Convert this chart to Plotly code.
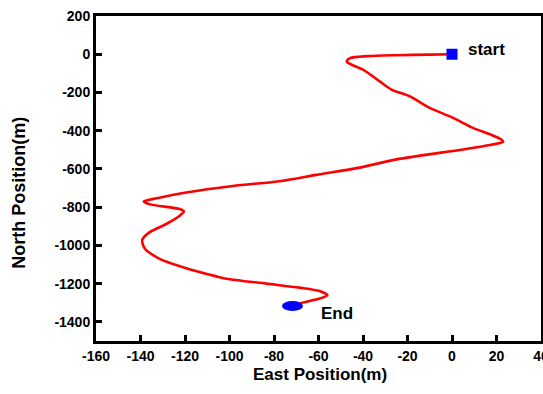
import plotly.graph_objects as go

# Trajectory (East, North) in metres
east = [0, -10, -25, -38, -45.8, -47.3, -45.1, -40, -32.5, -27.2, -19, -10, 0.5,
        9.4, 17, 22.2, 23, 17, 5, -25, -41.5, -61, -76.7, -98.5, -119.4, -132,
        -138.5, -136, -122.4, -120.5, -122.4, -128.4, -136, -139.2, -138, -131.4,
        -120.9, -105.9, -101.4, -83.4, -68.5, -59.5, -56, -59.5, -67.7, -71.7]
north = [0, -2, -5, -10, -20.3, -38, -55, -81, -142, -185, -220, -281, -333,
         -385, -418, -446, -458, -475, -498, -550, -593, -631, -663, -689, -723, -752,
         -770, -784, -810, -822, -845, -888, -932, -971, -1018, -1070,
         -1114, -1162, -1174, -1200, -1221, -1239, -1261, -1278, -1301, -1317]

x_ticks = [-160, -140, -120, -100, -80, -60, -40, -20, 0, 20, 40]
y_ticks = [-1400, -1200, -1000, -800, -600, -400, -200, 0, 200]
start_label = "start"
end_label = "End"

FONT = "Liberation Sans, Arial, sans-serif"

fig = go.Figure()
fig.add_trace(go.Scatter(x=east, y=north, mode="lines",
                         line=dict(color="#ff0000", width=2.6, shape="spline", smoothing=0.8),
                         showlegend=False, hoverinfo="skip"))
fig.add_trace(go.Scatter(x=[east[0]], y=[north[0]], mode="markers",
                         marker=dict(symbol="square", size=11, color="#0000ff"),
                         showlegend=False))

fig.add_shape(type="circle", xref="x", yref="y", xsizemode="pixel", ysizemode="pixel",
              xanchor=east[-1], yanchor=north[-1], x0=-10.5, x1=10.5, y0=-5, y1=5,
              fillcolor="#0000ff", line=dict(color="#0000ff", width=0))

fig.add_annotation(x=east[0], y=north[0], xref="x", yref="y", text=start_label,
                   showarrow=False, xanchor="left", yanchor="middle", xshift=14, yshift=5,
                   font=dict(family=FONT, size=17, color="black", weight="bold"))
fig.add_annotation(x=east[-1], y=north[-1], xref="x", yref="y", text=end_label,
                   showarrow=False, xanchor="left", yanchor="middle", xshift=27, yshift=-7,
                   font=dict(family=FONT, size=17, color="black", weight="bold"))

fig.add_annotation(x=0.503, y=-0.104, xref="paper", yref="paper", text="East Position(m)",
                   showarrow=False, xanchor="center", yanchor="middle",
                   font=dict(family=FONT, size=17, color="black", weight="bold"))
fig.add_annotation(x=-0.173, y=0.456, xref="paper", yref="paper", text="North Position(m)",
                   showarrow=False, xanchor="center", yanchor="middle", textangle=-90,
                   font=dict(family=FONT, size=18, color="black", weight="bold"))

axis_common = dict(showgrid=False, zeroline=False, showline=True, linecolor="black",
                   linewidth=3, mirror=True, ticks="inside", ticklen=6, tickwidth=2.5,
                   tickcolor="black", ticklabeloverflow="allow", automargin=False,
                   tickfont=dict(family=FONT, size=14, color="black", weight="bold"))

fig.update_xaxes(range=[-160, 40], tickvals=x_ticks, ticktext=[str(v) for v in x_ticks],
                 **axis_common)
fig.update_yaxes(range=[-1500, 200], tickvals=y_ticks, ticktext=[str(v) for v in y_ticks],
                 **axis_common)

fig.update_layout(width=543, height=394, margin=dict(l=96, r=2, t=16, b=53),
                  paper_bgcolor="white", plot_bgcolor="white",
                  font=dict(family=FONT))

fig.write_html("out.html")
